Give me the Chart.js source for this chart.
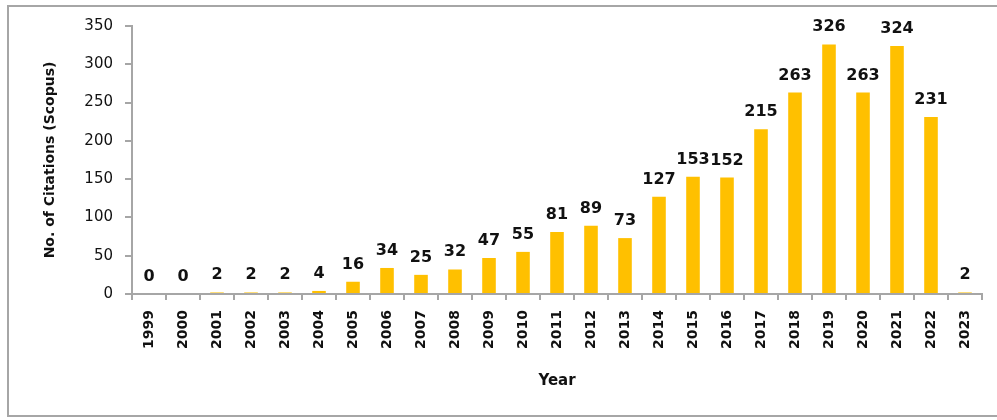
<!DOCTYPE html>
<html>
<head>
<meta charset="utf-8">
<script src="https://cdn.jsdelivr.net/npm/chart.js@4.4.1/dist/chart.umd.min.js"></script>
<style>
  html, body { margin: 0; padding: 0; background: #fff; overflow: hidden; }
  #wrap { position: relative; width: 997px; height: 420px; overflow: hidden; }
  #frame { position: absolute; left: 7px; top: 5px; width: 1000px; height: 412px; border: 2px solid #a6a6a6; box-sizing: border-box; }
  canvas { position: absolute; left: 0; top: 0; }
</style>
</head>
<body>
<div id="wrap">
  <div id="frame"></div>
  <canvas id="chart" width="997" height="420"></canvas>
</div>
<script>
const years = ['1999','2000','2001','2002','2003','2004','2005','2006','2007','2008','2009','2010',
  '2011','2012','2013','2014','2015','2016','2017','2018','2019','2020','2021','2022','2023'];
const citations = [0, 0, 2, 2, 2, 4, 16, 34, 25, 32, 47, 55, 81, 89, 73, 127, 153, 152, 215, 263, 326, 263, 324, 231, 2];
const yTicks = [0, 50, 100, 150, 200, 250, 300, 350];

const textColor = '#111111';
const axisColor = '#a6a6a6';

// values above each bar
const barLabels = {
  id: 'barLabels',
  afterDatasetsDraw(chart) {
    const ctx = chart.ctx;
    const meta = chart.getDatasetMeta(0);
    ctx.save();
    ctx.font = 'bold 16px "DejaVu Sans"';
    ctx.fillStyle = textColor;
    ctx.textAlign = 'center';
    ctx.textBaseline = 'alphabetic';
    meta.data.forEach((bar, i) => {
      ctx.fillText(String(citations[i]), bar.x, bar.y - 13);
    });
    ctx.restore();
  }
};

new Chart(document.getElementById('chart'), {
  type: 'bar',
  data: {
    labels: years,
    datasets: [{
      data: citations,
      backgroundColor: '#ffc000',
      borderWidth: 0,
      barPercentage: 0.4,
      categoryPercentage: 1
    }]
  },
  options: {
    responsive: false,
    animation: false,
    layout: { padding: { top: 26, right: 15, bottom: 0, left: 0 } },
    plugins: { legend: { display: false }, tooltip: { enabled: false } },
    scales: {
      x: {
        afterFit(scale) { scale.height = 126; },
        grid: { offset: true, drawOnChartArea: false, drawTicks: true, tickLength: 6, color: axisColor, lineWidth: 2 },
        border: { color: axisColor, width: 2 },
        ticks: {
          minRotation: 90, maxRotation: 90, autoSkip: false, padding: 10,
          color: textColor, font: { family: 'DejaVu Sans', size: 14, weight: 'bold' }
        },
        title: {
          display: true, text: 'Year', color: textColor,
          font: { family: 'DejaVu Sans', size: 15, weight: 'bold' },
          padding: { top: 0, bottom: 30 }
        }
      },
      y: {
        min: 0, max: 350,
        afterFit(scale) { scale.width = 132; },
        afterBuildTicks(scale) { scale.ticks = yTicks.map(v => ({ value: v })); },
        grid: { drawOnChartArea: false, drawTicks: true, tickLength: 7, color: axisColor, lineWidth: 2 },
        border: { color: axisColor, width: 2 },
        ticks: {
          padding: 12, color: textColor,
          font: { family: 'DejaVu Sans', size: 15 }
        },
        title: {
          display: true, text: 'No. of Citations (Scopus)', color: textColor,
          font: { family: 'DejaVu Sans', size: 14, weight: 'bold' },
          padding: { top: 42, bottom: 0 }
        }
      }
    }
  },
  plugins: [barLabels]
});
</script>
</body>
</html>
